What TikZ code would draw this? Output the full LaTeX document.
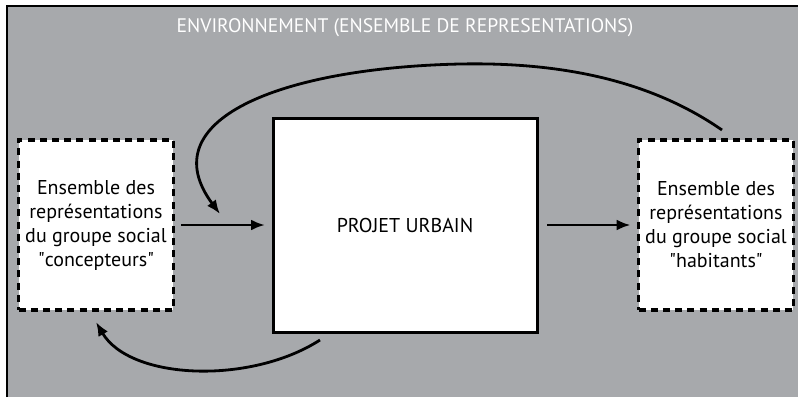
\documentclass[tikz,border=0pt]{standalone}
\usepackage{fontspec}
\setmainfont{PT Sans}
\usetikzlibrary{positioning,arrows.meta}
\definecolor{envgray}{RGB}{167,169,172}

\begin{document}
\begin{tikzpicture}[x=0.5pt,y=-0.5pt,every node/.style={outer sep=0pt},
 repbox/.style={draw,fill=white,line width=1.8pt,dash pattern=on 3.5pt off 2.6pt,
 minimum width=76pt,minimum height=85pt,align=center,font=\fontsize{10}{12}\selectfont},
 projbox/.style={draw,fill=white,line width=1.5pt,minimum width=132pt,
 minimum height=107pt,font=\fontsize{10}{12}\selectfont},
 flow/.style={-{Latex[length=7pt,width=5.5pt]},line width=1.4pt}]

\useasboundingbox (0,0) rectangle (798,397);
\fill[envgray] (7,6) rectangle (798,397);
\draw[line width=1pt] (7,397) -- (7,6) -- (798,6);

\node[text=white,font=\fontsize{9.8}{11}\selectfont] (env) at (405,28) {ENVIRONNEMENT (ENSEMBLE DE REPRESENTATIONS)};

\node[projbox] (projet) at (405,225) {PROJET URBAIN};
\node[repbox] (conc) at (96,225) {Ensemble des\\représentations\\du groupe social\\\textquotedbl concepteurs\textquotedbl};
\node[repbox] (hab) at (716,225) {Ensemble des\\représentations\\du groupe social\\\textquotedbl habitants\textquotedbl};

\draw[flow] ([xshift=4pt]conc.east) -- ([xshift=-4pt]projet.west);
\draw[flow] ([xshift=5pt]projet.east) -- ([xshift=-4pt]hab.west);

\coordinate (in1) at (220,214);
\coordinate (out1) at (320,340);
\draw[flow] ([xshift=3pt,yshift=5pt]hab.north) .. controls (650,80) and (560,62) .. (460,64)
 .. controls (280,68) and (150,120) .. (in1);
\draw[flow] (out1) .. controls (250,385) and (130,380) .. ([yshift=-6pt]conc.south);

\end{tikzpicture}
\end{document}
